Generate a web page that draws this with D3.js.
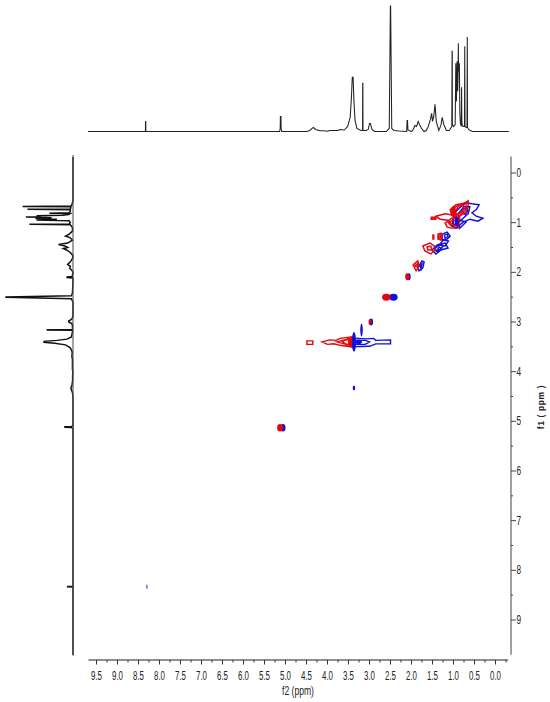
<!DOCTYPE html>
<html><head><meta charset="utf-8">
<script src="https://cdn.jsdelivr.net/npm/d3@7"></script>
<style>html,body{margin:0;padding:0;background:#fff}svg{display:block}</style>
</head><body><div id="c"></div>
<script>
// 1D proton trace
const tracePpm = [9.70,8.335,8.333,8.327,8.325,5.14,5.126,5.122,5.108,5.104,5.09,4.5,4.42,4.34,4.28,4.18,4.1,4.0,3.95,3.75,3.7,3.6,3.52,3.46,3.43,3.41,3.39,3.37,3.345,3.3,3.2,3.165,3.162,3.158,3.155,3.08,3.03,3.0,2.98,2.94,2.88,2.6,2.53,2.503,2.497,2.47,2.42,2.3,2.115,2.105,2.095,2.085,2.0,1.96,1.92,1.88,1.84,1.81,1.76,1.7,1.65,1.6,1.55,1.52,1.5,1.47,1.44,1.41,1.35,1.3,1.27,1.23,1.17,1.1,1.07,1.04,1.034,1.03,1.026,1.0,0.96,0.945,0.93,0.915,0.90,0.89,0.885,0.88,0.86,0.85,0.835,0.815,0.808,0.80,0.775,0.738,0.732,0.726,0.70,0.678,0.672,0.666,0.64,0.6,0.55,-0.32];
const traceInt = [0,0,10,10,0,0,3,15,15,3,0,0,1,4,2,0.7,0.7,0.3,1,1,2,1.5,5,14,34,54,54,30,11,3,1,1,48,48,1,1,2,8,8,2,0,0,3,125,125,3,1,0.5,0,11,11,1.5,0,2,6,5,10,7,3,0,1,5,12,18,10,15,27,10,1,6,14,7,1,1,3,5,80,80,7,5,7,68,30,70,40,60,88,60,68,20,8,5,44,8,5,5,85,5,4,4,94,4,2,1,0,0];

// contour lines: f2 (ppm), f1 (ppm)
const redContours = [
 [[4.13,3.40],[3.95,3.36],[3.8,3.37],[3.7,3.33],[3.42,3.30],[3.42,3.50],[3.7,3.47],[3.85,3.44],[4.0,3.45]],
 [[3.78,3.40],[3.6,3.36],[3.42,3.36],[3.42,3.45],[3.6,3.44]],
 [[3.65,3.39],[3.5,3.33],[3.42,3.33],[3.42,3.47],[3.55,3.46]],
 [[4.49,3.38],[4.35,3.38],[4.35,3.45],[4.49,3.45]],
 [[1.42,0.87],[1.20,0.82],[1.01,0.85],[0.89,0.68],[0.77,0.62],[0.65,0.56],[0.65,0.70],[0.80,0.82],[0.94,0.95],[0.94,1.07],[1.04,1.03],[1.13,0.95],[1.32,0.93]],
 [[1.08,0.74],[0.94,0.64],[0.70,0.60],[0.70,0.80],[0.89,0.87],[1.04,0.85]],
 [[1.00,0.72],[0.88,0.64],[0.76,0.66],[0.78,0.78],[0.92,0.84]],
 [[1.20,1.01],[1.04,0.91],[0.85,0.91],[0.89,1.11],[1.04,1.11],[1.15,1.09]],
 [[1.12,1.00],[1.02,0.95],[0.92,0.97],[0.95,1.05],[1.06,1.06]],
 [[1.53,0.89],[1.49,0.89],[1.49,0.93],[1.53,0.93]],
 [[1.46,0.89],[1.42,0.89],[1.42,0.93],[1.46,0.93]],
 [[1.73,1.47],[1.56,1.41],[1.46,1.47],[1.44,1.55],[1.54,1.63],[1.68,1.57]],
 [[1.63,1.49],[1.54,1.47],[1.51,1.55],[1.61,1.55]],
 [[1.37,1.23],[1.30,1.21],[1.27,1.27],[1.30,1.35],[1.37,1.33]],
 [[1.35,1.25],[1.31,1.25],[1.31,1.31],[1.35,1.31]],
 [[1.49,1.25],[1.47,1.25],[1.47,1.33],[1.49,1.33]],
 [[1.96,1.85],[1.85,1.77],[1.82,1.87],[1.89,1.97]],
 [[1.92,1.87],[1.86,1.83],[1.85,1.89]]
];
const blueContours = [
 [[3.42,3.32],[3.1,3.34],[2.9,3.33],[2.85,3.37],[2.5,3.36],[2.5,3.44],[2.85,3.44],[3.0,3.49],[3.42,3.5]],
 [[3.36,3.37],[3.1,3.37],[3.0,3.40],[3.1,3.45],[3.36,3.45]],
 [[0.96,0.79],[0.85,0.70],[0.70,0.60],[0.56,0.62],[0.39,0.64],[0.46,0.74],[0.56,0.80],[0.46,0.87],[0.30,0.91],[0.42,0.97],[0.61,0.93],[0.77,0.99],[0.94,1.11],[1.04,1.07]],
 [[0.89,0.82],[0.75,0.68],[0.61,0.68],[0.65,0.82],[0.77,0.91],[0.87,0.99]],
 [[0.80,0.76],[0.70,0.70],[0.66,0.76],[0.72,0.84]],
 [[0.92,0.93],[0.70,0.99],[0.85,1.11]],
 [[1.02,0.94],[0.94,0.88],[0.90,1.00],[0.98,1.06]],
 [[1.51,1.55],[1.39,1.45],[1.20,1.41],[1.13,1.51],[1.30,1.55],[1.42,1.63]],
 [[1.45,1.53],[1.31,1.43],[1.25,1.47],[1.37,1.59]],
 [[1.40,1.57],[1.34,1.49],[1.28,1.53]],
 [[1.27,1.23],[1.15,1.19],[1.08,1.27],[1.15,1.33],[1.27,1.35]],
 [[1.22,1.25],[1.15,1.23],[1.13,1.28],[1.20,1.31]],
 [[1.24,1.35],[1.12,1.37],[1.20,1.47],[1.34,1.45]],
 [[1.85,1.91],[1.75,1.77],[1.70,1.79],[1.73,1.91],[1.82,1.97]],
 [[1.80,1.87],[1.75,1.83],[1.77,1.93]]
];
// solid spots: f2 centre, f1 centre, f2 half width, f1 half width
const redSpots = [[5.13,5.13,0.07,0.075],[2.99,3.00,0.035,0.06],[2.60,2.50,0.10,0.07],[2.10,2.09,0.05,0.07],[3.46,3.40,0.05,0.08],[1.0,0.78,0.06,0.12]];
const blueSpots = [[5.06,5.13,0.06,0.075],[2.96,3.00,0.045,0.07],[2.43,2.50,0.10,0.07],[2.06,2.09,0.04,0.07],[3.19,3.16,0.03,0.13],[3.37,3.40,0.05,0.20],[3.37,4.33,0.03,0.05],[8.30,8.33,0.012,0.045],[3.26,3.40,0.08,0.05],[0.92,0.98,0.05,0.09]];

const f2Major = [9.5,9,8.5,8,7.5,7,6.5,6,5.5,5,4.5,4,3.5,3,2.5,2,1.5,1,0.5,0];
const f2Minor = [9.25,8.75,8.25,7.75,7.25,6.75,6.25,5.75,5.25,4.75,4.25,3.75,3.25,2.75,2.25,1.75,1.25,0.75,0.25,-0.25];
const f1Major = [0,1,2,3,4,5,6,7,8,9];
const f1Minor = [0.5,1.5,2.5,3.5,4.5,5.5,6.5,7.5,8.5];

const W = 550, H = 702;
const red = "#e3060f", blue = "#1010d8", font = "'Liberation Sans',sans-serif";
const x = d3.scaleLinear().domain([9.5,0]).range([96.5,495.5]);
const y = d3.scaleLinear().domain([0,9]).range([173,620]);
const topH = d3.scaleLinear().domain([0,125]).range([131.5,6]);
const leftH = d3.scaleLinear().domain([0,125]).range([73,6]);
const svg = d3.select("#c").append("svg").attr("width",W).attr("height",H);

const trace = tracePpm.map((p,i)=>[p,traceInt[i]]);
svg.append("path").attr("fill","none").attr("stroke","#222").attr("stroke-width",1.05)
  .attr("d",d3.line().x(d=>x(d[0])).y(d=>topH(d[1]))(trace));
svg.append("path").attr("fill","none").attr("stroke","#111").attr("stroke-width",1.5)
  .attr("d",d3.line().x(d=>leftH(d[1])).y(d=>y(d[0]))(trace));

// frame axes
svg.append("line").attr("x1",73).attr("x2",73).attr("y1",y(-0.36)).attr("y2",y(9.72)).attr("stroke","#555").attr("stroke-width",1.1);
svg.append("line").attr("x1",511).attr("x2",511).attr("y1",y(-0.33)).attr("y2",y(9.7)).attr("stroke","#777").attr("stroke-width",1.4);
svg.append("line").attr("x1",x(9.69)).attr("x2",x(-0.3)).attr("y1",660).attr("y2",660).attr("stroke","#222").attr("stroke-width",1.1);

svg.append("g").selectAll("line").data(f2Major.concat(f2Minor)).join("line")
  .attr("x1",d=>x(d)).attr("x2",d=>x(d)).attr("y1",660)
  .attr("y2",d=>f2Major.includes(d)?664.5:662.5).attr("stroke","#333");
// the reference lettering is condensed: narrow the glyphs horizontally
svg.append("g").selectAll("text").data(f2Major).join("text")
  .attr("transform",d=>`translate(${x(d)},679.5) scale(0.72,1.08)`).attr("text-anchor","middle")
  .attr("font-family",font).attr("font-size",11).attr("fill","#222").text(d=>d.toFixed(1));
svg.append("text").attr("transform","translate(298,695) scale(0.78,1.08)").attr("text-anchor","middle")
  .attr("font-family",font).attr("font-size",11).attr("fill","#222").text("f2 (ppm)");

svg.append("g").selectAll("line").data(f1Major.concat(f1Minor)).join("line")
  .attr("x1",511).attr("x2",d=>f1Major.includes(d)?516:513).attr("y1",d=>y(d)).attr("y2",d=>y(d)).attr("stroke","#444");
svg.append("g").selectAll("text").data(f1Major).join("text")
  .attr("transform",d=>`translate(516.5,${y(d)+4}) scale(0.75,1.08)`)
  .attr("font-family",font).attr("font-size",11).attr("fill","#222").text(d=>d);
svg.append("text").attr("transform","translate(544,407) rotate(-90)").attr("text-anchor","middle")
  .attr("font-family",font).attr("font-size",8.5).attr("font-weight","bold").attr("letter-spacing",0.6).attr("fill","#222").text("f1 ( ppm )");

// 2D contours
const poly = d3.line().x(d=>x(d[0])).y(d=>y(d[1])).curve(d3.curveLinearClosed);
function drawSpots(data,col){
  svg.append("g").selectAll("ellipse").data(data).join("ellipse")
    .attr("cx",d=>x(d[0])).attr("cy",d=>y(d[1]))
    .attr("rx",d=>Math.abs(x(d[0]+d[2])-x(d[0]))).attr("ry",d=>y(d[1]+d[3])-y(d[1])).attr("fill",col);
}
function drawContours(data,col){
  svg.append("g").selectAll("path").data(data).join("path")
    .attr("d",poly).attr("fill","none").attr("stroke",col).attr("stroke-width",1.45);
}
drawContours(blueContours,blue);
drawContours(redContours,red);
drawSpots(blueSpots,blue);
drawSpots(redSpots,red);
</script></body></html>
